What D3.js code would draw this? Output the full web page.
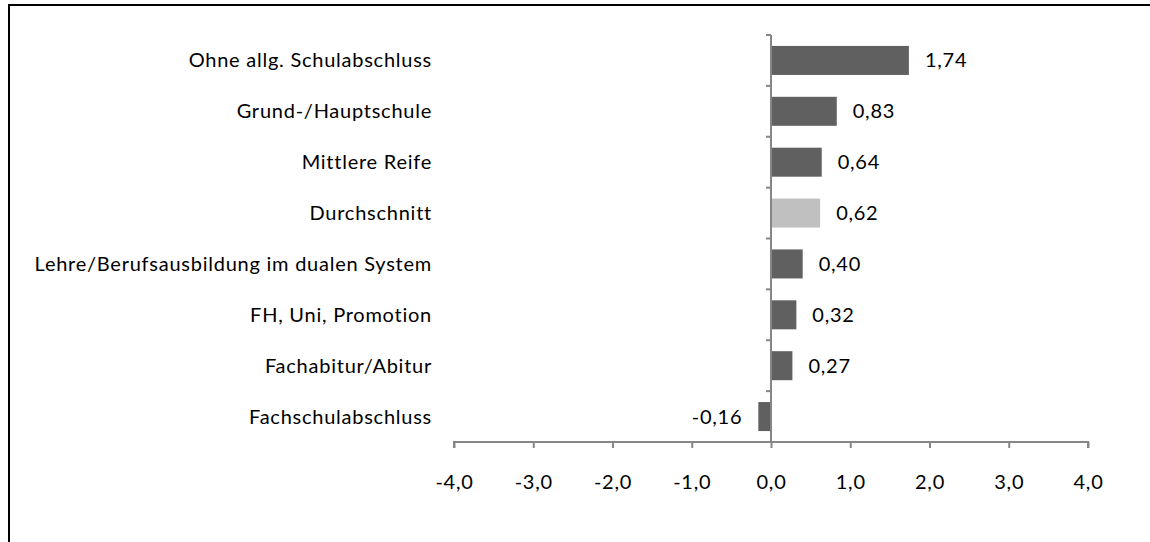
<!DOCTYPE html>
<html>
<head>
<meta charset="utf-8">
<script src="https://cdn.jsdelivr.net/npm/d3@7"></script>
<style>
    body { margin: 0; background: #fff; }
    svg { display: block; }
    text { font-family: "Lato", "Open Sans", sans-serif; font-size: 20px; letter-spacing: 0.75px; fill: #000; }
</style>
</head>
<body>
<svg id="chart" width="1150" height="542"></svg>
<script>
const categories = [
    "Ohne allg. Schulabschluss",
    "Grund-/Hauptschule",
    "Mittlere Reife",
    "Durchschnitt",
    "Lehre/Berufsausbildung im dualen System",
    "FH, Uni, Promotion",
    "Fachabitur/Abitur",
    "Fachschulabschluss"
];
const values = [1.74, 0.83, 0.64, 0.62, 0.40, 0.32, 0.27, -0.16];
const highlighted = ["Durchschnitt"];
const xTicks = [-4, -3, -2, -1, 0, 1, 2, 3, 4];

const data = categories.map((name, i) => ({ name, value: values[i] }));

// German number format with a plain hyphen as minus
const locale = d3.formatLocale({ decimal: ",", thousands: ".", grouping: [3], currency: ["", " €"], minus: "-" });
const fmtValue = locale.format(".2f");
const fmtTick = locale.format(".1f");

const svg = d3.select("#chart");

// Frame (only top and left edges fall inside the picture)
svg.append("path")
    .attr("d", "M9,545 V5 H1155")
    .attr("fill", "none")
    .attr("stroke", "#000")
    .attr("stroke-width", 2);

const x = d3.scaleLinear().domain([-4, 4]).range([454, 1088]);
const band = d3.scaleBand().domain(categories).range([35, 442]);
const y = d3.scaleBand().domain(categories).range([35, 442]).paddingInner(0.43).paddingOuter(0.215);

const axisColor = "#868686";

// Bars
svg.append("g")
    .selectAll("rect")
    .data(data)
    .join("rect")
    .attr("x", d => x(Math.min(0, d.value)))
    .attr("y", d => y(d.name))
    .attr("width", d => Math.abs(x(d.value) - x(0)))
    .attr("height", y.bandwidth())
    .attr("fill", d => highlighted.includes(d.name) ? "#c0c0c0" : "#606060");

// X axis
const xAxis = svg.append("g")
    .attr("transform", `translate(0,${442})`)
    .call(d3.axisBottom(x).tickValues(xTicks).tickSize(6).tickFormat(fmtTick));
xAxis.select(".domain").attr("stroke", axisColor).attr("stroke-width", 2)
    .attr("d", `M${x(-4)},6V0H${x(4)}V6`);
xAxis.selectAll(".tick line").attr("stroke", axisColor).attr("stroke-width", 2);
xAxis.selectAll(".tick text")
    .attr("y", 40)
    .attr("dy", "0.35em")
    .attr("font-size", null)
    .attr("font-family", null)
    .attr("fill", "#000");
xAxis.attr("font-size", null).attr("font-family", null);

// Y axis at zero
const yAxis = svg.append("g").attr("transform", `translate(${x(0)},0)`);
yAxis.append("line")
    .attr("y1", 35).attr("y2", 442)
    .attr("stroke", axisColor).attr("stroke-width", 2);
const bounds = categories.map(c => band(c)).concat([442]);
yAxis.selectAll(".ytick")
    .data(bounds)
    .join("line")
    .attr("class", "ytick")
    .attr("x1", -5).attr("x2", 0)
    .attr("y1", d => d).attr("y2", d => d)
    .attr("stroke", axisColor).attr("stroke-width", 2);

// Category labels
svg.append("g")
    .selectAll("text")
    .data(categories)
    .join("text")
    .attr("x", 432)
    .attr("y", d => band(d) + band.bandwidth() / 2)
    .attr("dy", "0.35em")
    .attr("text-anchor", "end")
    .text(d => d);

// Value labels
svg.append("g")
    .selectAll("text")
    .data(data)
    .join("text")
    .attr("x", d => d.value >= 0 ? x(d.value) + 16 : x(d.value) - 16)
    .attr("y", d => band(d.name) + band.bandwidth() / 2)
    .attr("dy", "0.35em")
    .attr("text-anchor", d => d.value >= 0 ? "start" : "end")
    .text(d => fmtValue(d.value));
</script>
</body>
</html>
